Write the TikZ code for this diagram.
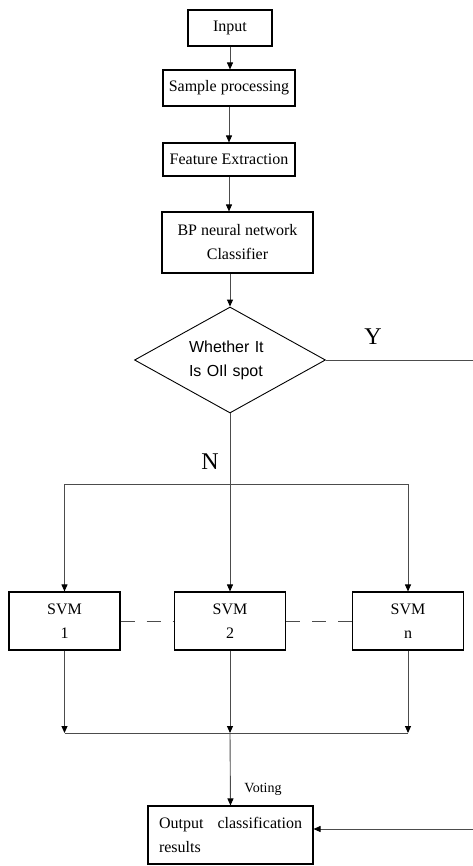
\documentclass[tikz,border=0pt]{standalone}
\usepackage{fontspec}
\setmainfont{Liberation Serif}
\newfontfamily\arialfont{Liberation Sans}
\usepackage{tikz}
\usetikzlibrary{calc}
\usetikzlibrary{arrows.meta}
\usetikzlibrary{shapes.geometric}
\tikzset{
  box/.style = {draw=black, line width=1.1pt, inner sep=0, align=center,
    font=\fontsize{16}{24}\selectfont},
  link/.style = {draw=black!70, line width=0.9pt},
  arrow/.style = {link, -{Triangle[length=7pt,width=6pt,color=black]}},
  yesno/.style = {font=\fontsize{24}{28}\selectfont},
}

\begin{document}
\begin{tikzpicture}[x=1pt, y=-1pt]
\useasboundingbox (0,0) rectangle (472,866);

\node[box, minimum width=84, minimum height=36] (input) at (230,28) {Input};
\node[box, minimum width=132, minimum height=36] (sample) at (229,88) {Sample processing};
\node[box, minimum width=132, minimum height=33] (feature) at (229,159.5) {Feature Extraction};
\node[box, minimum width=151, minimum height=61] (bp) at (237.5,242.5) {BP neural network\\Classifier};
\node[diamond, aspect=1.8, draw=black, line width=0.9pt, inner sep=0, minimum width=191, minimum height=106,
  text width=82, align=left, font=\arialfont\fontsize{16}{24}\selectfont] (judge) at (230,360)
  {Whether It\\Is OIl spot};

\foreach \x/\k in {64.5/1, 230/2, 408/n} {
  \node[box, minimum width=111, minimum height=58] (svm\k) at (\x,621) {SVM\\\k};
}
\node[box, minimum width=165, minimum height=58, text width=143, align=left] (output) at (230.5,835)
  {Output\hfill classification\\results};

\coordinate (split) at (230,484);
\coordinate (merge) at (230,733);
\coordinate (turn) at (480,360);
\coordinate (back) at (480,829);

\draw[arrow] (input.south) -- (input.south |- sample.north);
\draw[arrow] (sample.south) -- (sample.south |- feature.north);
\draw[arrow] (feature.south) -- (feature.south |- bp.north);
\draw[arrow] (bp.south -| judge) -- (judge.north);

\draw[link] (judge.east) -- (turn) -- (back);
\draw[arrow] (back) -- (back -| output.east);
\node[yesno] (yes) at (373,337) {Y};

\draw[link] (judge.south) -- (split);
\node[yesno] (no) at (210,462) {N};
\draw[link] (split -| svm1) -- (split -| svmn);
\foreach \k in {1,2,n} {
  \draw[arrow] (split -| svm\k) -- (svm\k.north);
  \draw[arrow] (svm\k.south) -- (merge -| svm\k);
}
\draw[link] (merge -| svm1) -- (merge -| svmn);

\draw[link, dash pattern=on 14pt off 12pt] (svm1.east) -- (svm2.west);
\draw[link, dash pattern=on 14pt off 12pt] (svm2.east) -- (svmn.west);

\draw[arrow] (merge) -- (output.north);
\node[font=\fontsize{14}{16}\selectfont] (vote) at (263,789) {Voting};
\end{tikzpicture}
\end{document}
